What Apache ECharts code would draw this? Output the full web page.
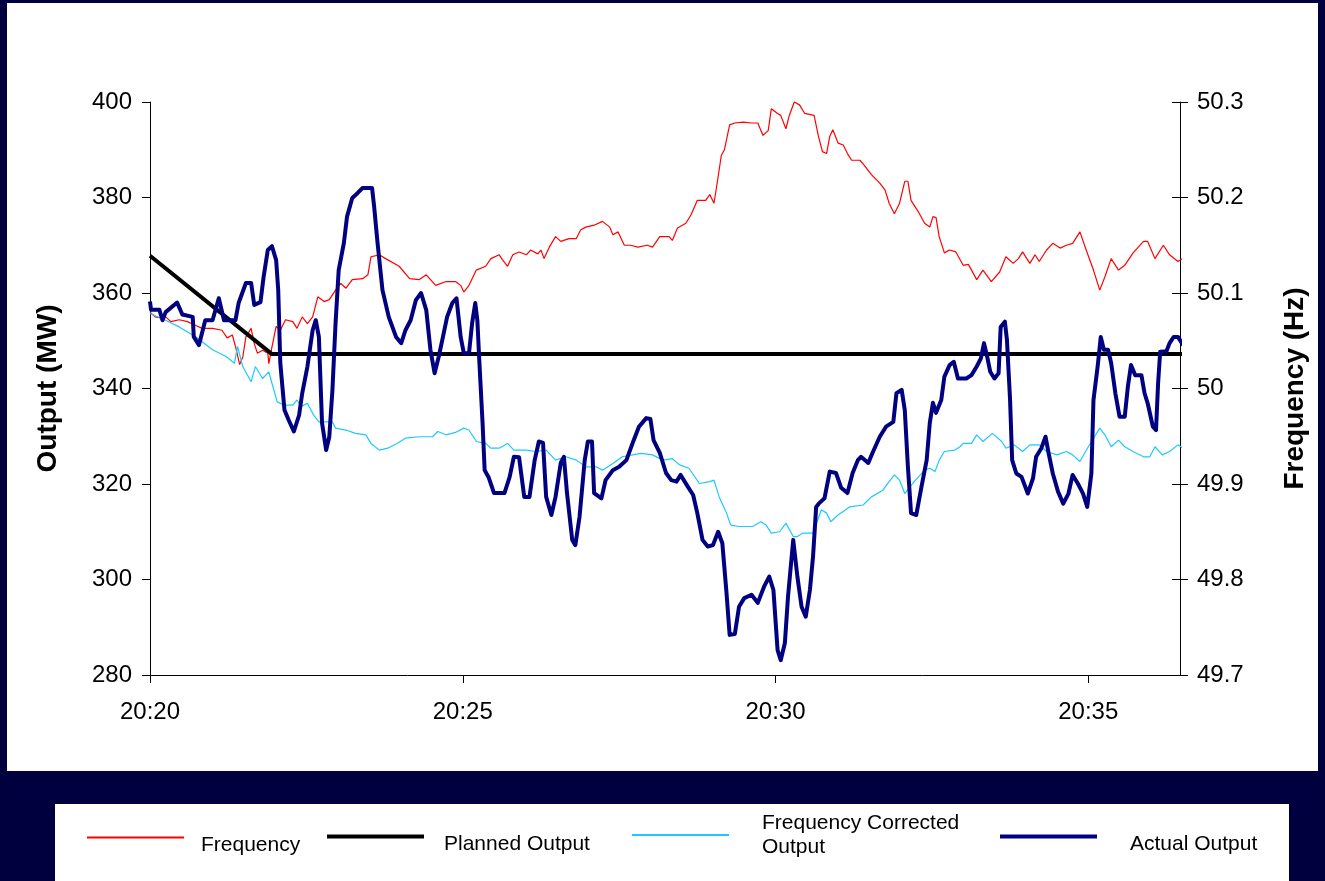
<!DOCTYPE html>
<html>
<head>
<meta charset="utf-8">
<script src="https://cdn.jsdelivr.net/npm/echarts@6/dist/echarts.min.js"></script>
<style>
  html, body { margin: 0; padding: 0; background: #00003f; }
  #chart { width: 1325px; height: 881px; }
</style>
</head>
<body>
<div id="chart"></div>
<script>
// Time in seconds after 20:20:00
const xTickLabels = ['20:20', '20:25', '20:30', '20:35'];
const seriesNames = ['Frequency', 'Planned Output', 'Frequency Corrected Output', 'Actual Output'];

// Frequency (Hz), right axis
const frequency = [
  [0,50.080],[5,50.075],[10,50.074],[15,50.075],[20,50.070],[28,50.072],[36,50.070],[44,50.066],[50,50.063],[60,50.063],
  [69,50.061],[74,50.053],[79,50.056],[82,50.044],[86,50.025],[89,50.033],[92,50.054],[97,50.063],[100,50.047],[103,50.037],
  [108,50.040],[113,50.037],[114,50.026],[116,50.038],[121,50.065],[125,50.061],[130,50.072],[137,50.070],[141,50.063],[146,50.075],
  [151,50.068],[156,50.075],[161,50.096],[167,50.091],[172,50.093],[178,50.103],[183,50.110],[188,50.105],[194,50.114],[204,50.115],
  [209,50.119],[212,50.138],[220,50.140],[226,50.136],[239,50.128],[249,50.115],[258,50.114],[265,50.119],[274,50.108],[284,50.112],
  [293,50.112],[298,50.108],[301,50.101],[306,50.108],[313,50.124],[322,50.128],[327,50.136],[335,50.140],[338,50.135],[343,50.128],
  [348,50.140],[354,50.143],[361,50.140],[365,50.145],[372,50.141],[375,50.145],[378,50.136],[383,50.148],[389,50.159],[394,50.154],
  [402,50.157],[409,50.157],[413,50.166],[418,50.169],[426,50.171],[434,50.175],[441,50.169],[444,50.161],[449,50.164],[455,50.150],
  [461,50.150],[468,50.148],[477,50.150],[482,50.148],[489,50.159],[498,50.159],[501,50.155],[506,50.168],[514,50.173],[519,50.182],
  [525,50.197],[533,50.197],[537,50.203],[541,50.194],[545,50.222],[548,50.244],[551,50.250],[556,50.276],[561,50.278],[569,50.279],
  [577,50.278],[583,50.278],[588,50.265],[593,50.270],[596,50.293],[602,50.288],[605,50.286],[610,50.272],[613,50.285],[618,50.300],
  [623,50.297],[628,50.288],[637,50.286],[641,50.265],[645,50.248],[649,50.246],[652,50.264],[655,50.271],[660,50.257],[665,50.255],
  [669,50.246],[673,50.239],[681,50.239],[685,50.234],[692,50.224],[700,50.215],[705,50.208],[709,50.194],[714,50.183],[719,50.194],
  [724,50.217],[727,50.217],[730,50.197],[737,50.185],[743,50.173],[748,50.169],[751,50.180],[754,50.179],[757,50.159],[762,50.142],
  [767,50.145],[773,50.143],[780,50.129],[785,50.130],[793,50.114],[799,50.124],[807,50.112],[815,50.122],[821,50.138],[828,50.131],
  [833,50.136],[837,50.143],[844,50.131],[849,50.140],[853,50.133],[860,50.145],[866,50.152],[873,50.147],[879,50.150],[885,50.152],
  [892,50.164],[898,50.145],[905,50.124],[911,50.103],[916,50.117],[922,50.136],[929,50.124],[935,50.129],[943,50.142],[953,50.154],
  [957,50.154],[964,50.136],[972,50.150],[978,50.140],[986,50.133],[996,50.140]
];

// Planned Output (MW)
const plannedOutput = [[0,367.8],[117,347.2],[991,347.2]];

// Frequency Corrected Output (MW)
const correctedOutput = [
  [0,355.7],[15,354.3],[28,352.9],[44,350.8],[60,348.1],[73,346.7],[81,345.3],[84,348.8],[89,344.6],[97,341.4],
  [101,344.6],[108,342.1],[114,343.5],[117,341.1],[122,337.2],[129,336.5],[137,336.5],[141,337.6],[145,336.2],[151,336.9],
  [157,334.4],[162,333.0],[175,333.0],[178,331.7],[188,331.3],[197,330.6],[207,330.3],[212,328.5],[220,327.1],[228,327.5],
  [237,328.5],[245,329.6],[258,329.9],[271,329.9],[276,331.0],[284,330.3],[293,330.8],[301,331.7],[306,331.3],[313,328.9],
  [322,328.5],[327,327.5],[335,327.5],[343,328.5],[349,327.1],[361,327.1],[370,326.8],[380,327.1],[389,325.0],[399,325.7],
  [409,325.0],[418,323.6],[428,323.6],[434,322.9],[444,324.3],[453,325.7],[463,326.1],[471,326.4],[482,326.1],[492,325.0],
  [501,325.3],[508,324.0],[517,323.3],[527,320.1],[537,320.5],[541,320.8],[546,317.3],[553,313.9],[557,311.4],[565,311.1],
  [578,311.1],[586,312.1],[591,311.4],[596,309.7],[604,310.0],[610,311.8],[617,309.0],[621,309.0],[626,309.7],[636,309.7],
  [644,314.6],[649,313.9],[653,312.1],[660,313.5],[671,315.2],[684,315.6],[692,317.3],[703,318.7],[709,320.5],[714,321.9],
  [719,320.8],[724,318.0],[729,319.4],[733,320.5],[743,322.9],[748,323.3],[753,322.6],[757,325.0],[762,326.8],[772,327.1],
  [777,327.8],[780,328.5],[788,328.5],[793,330.3],[799,328.9],[808,330.6],[817,328.9],[821,327.5],[829,328.2],[837,326.8],
  [844,328.2],[853,328.2],[860,326.8],[870,326.1],[879,326.8],[885,326.1],[892,324.7],[900,327.8],[906,329.9],[911,331.7],
  [916,330.3],[922,327.8],[929,329.2],[935,327.8],[943,326.8],[953,325.7],[959,325.7],[964,327.8],[971,326.1],[978,326.8],
  [986,328.2],[991,327.5]
];

// Actual Output (MW)
const actualOutput = [
  [0,358.2],[1,356.5],[9,356.5],[12,354.3],[15,356.0],[26,358.0],[31,355.5],[41,355.0],[42,350.8],[47,349.1],
  [53,354.3],[60,354.3],[66,358.9],[71,354.3],[82,354.3],[85,357.9],[92,362.1],[97,362.1],[100,357.5],[106,358.1],
  [109,363.4],[113,369.0],[117,369.8],[121,366.9],[123,360.6],[125,345.3],[129,335.5],[133,333.4],[138,331.0],[143,334.4],
  [146,339.0],[151,344.6],[156,352.2],[159,354.3],[162,350.8],[165,332.8],[169,327.1],[172,329.9],[175,339.7],[178,353.7],
  [181,364.8],[186,370.5],[189,376.0],[194,379.9],[199,380.9],[204,382.0],[213,382.0],[215,378.1],[218,371.1],[223,360.6],
  [229,355.0],[236,350.8],[241,349.5],[245,352.2],[250,354.3],[255,358.5],[260,360.0],[265,356.4],[269,348.1],[273,343.2],
  [277,346.7],[281,350.8],[285,355.0],[290,357.9],[294,358.9],[298,350.8],[301,347.4],[306,347.4],[309,353.7],[312,357.9],
  [314,354.3],[316,345.3],[319,332.8],[321,322.9],[325,321.3],[330,318.1],[340,318.1],[345,321.5],[349,325.7],[354,325.6],
  [359,317.3],[364,317.3],[369,325.0],[373,328.9],[377,328.6],[380,317.3],[385,313.5],[389,317.3],[394,324.4],[397,325.7],
  [400,318.1],[405,308.3],[408,307.2],[412,313.1],[417,325.0],[420,328.9],[424,328.9],[426,318.1],[433,317.0],[437,320.8],
  [444,322.9],[450,323.6],[457,325.0],[463,328.6],[469,332.0],[476,333.8],[480,333.6],[483,329.2],[489,326.5],[495,322.3],
  [500,320.8],[505,320.5],[509,321.9],[516,319.4],[521,317.7],[525,313.9],[530,308.3],[535,306.9],[540,307.2],[545,310.0],
  [549,307.6],[553,297.2],[556,288.4],[561,288.6],[565,294.3],[570,296.1],[577,296.8],[583,295.1],[589,298.5],[594,300.6],
  [598,297.8],[602,285.2],[605,283.1],[609,286.7],[612,296.4],[617,308.3],[621,300.6],[625,294.3],[629,292.2],[633,297.8],
  [636,304.8],[639,315.2],[642,316.0],[647,317.0],[652,322.6],[658,322.3],[663,319.2],[669,318.1],[674,322.3],[679,325.0],
  [682,325.7],[689,324.4],[693,326.5],[700,329.9],[706,332.0],[713,333.0],[716,339.0],[721,339.7],[724,335.5],[727,323.6],
  [730,313.9],[735,313.5],[740,319.4],[745,325.0],[748,332.8],[751,337.0],[754,334.9],[759,337.6],[762,342.5],[767,344.9],
  [771,345.6],[775,342.1],[783,342.1],[788,342.8],[793,344.6],[797,346.3],[800,349.5],[803,346.7],[806,343.5],[810,342.1],
  [814,343.2],[816,352.9],[820,354.0],[822,350.2],[825,337.6],[827,325.0],[831,322.2],[836,321.5],[842,318.0],[847,321.2],
  [850,325.7],[855,327.5],[859,329.9],[862,326.4],[866,322.2],[871,318.4],[876,315.9],[881,318.0],[885,321.9],[890,320.1],
  [895,318.0],[899,315.2],[903,322.2],[905,337.6],[909,344.6],[912,350.8],[915,348.1],[919,348.1],[922,345.3],[926,339.0],
  [930,334.1],[935,334.1],[938,340.4],[941,344.9],[945,342.8],[951,342.8],[954,339.0],[957,336.9],[962,332.0],[965,331.3],
  [967,341.1],[969,347.7],[975,347.8],[978,349.5],[982,350.8],[986,350.8],[991,349.1]
];

const FONT = '"Liberation Sans", Arial, sans-serif';
const chart = echarts.init(document.getElementById('chart'), null, { renderer: 'canvas' });

// single-line labels sit a little below their legend line: an empty first line pushes them down
function legendBox(name, left, top, h, padLeft, lineH, fmt) {
  return {
    data: [{ name: name, icon: 'rect' }],
    left: left, top: top, padding: 0,
    itemWidth: 97, itemHeight: h,
    selectedMode: false,
    formatter: fmt || function (n) { return '\n' + n; },
    textStyle: { fontFamily: FONT, fontSize: 21, color: '#000', lineHeight: lineH, padding: [0, 0, 0, padLeft] }
  };
}

const option = {
  animation: false,
  backgroundColor: '#00003f',
  graphic: [
    { type: 'rect', z: -100, shape: { x: 7, y: 3, width: 1311, height: 768 }, style: { fill: '#ffffff' } },
    { type: 'rect', z: -100, shape: { x: 55, y: 804, width: 1234, height: 77 }, style: { fill: '#ffffff' } }
  ],
  grid: { left: 150, top: 102, width: 1030, height: 573, containLabel: false },
  legend: [
    legendBox(seriesNames[0], 87, 819, 2, 12, 16),
    legendBox(seriesNames[1], 327, 818, 4, 15, 16),
    legendBox(seriesNames[2], 632, 811, 2, 28, 24, function () { return 'Frequency Corrected\nOutput'; }),
    legendBox(seriesNames[3], 1000, 818, 4, 28, 16)
  ],
  xAxis: {
    type: 'value', min: 0, max: 988, interval: 300,
    axisLine: { show: true, lineStyle: { color: '#000', width: 1 } },
    axisTick: { show: true, length: 8, lineStyle: { color: '#000' } },
    splitLine: { show: false },
    axisLabel: {
      margin: 25, color: '#000', fontFamily: FONT, fontSize: 24, showMaxLabel: false,
      formatter: function (v) { const i = Math.round(v / 300); return (Math.abs(v - i * 300) < 1e-6 && i < xTickLabels.length) ? xTickLabels[i] : ''; }
    }
  },
  yAxis: [
    {
      type: 'value', min: 280, max: 400, interval: 20, position: 'left',
      name: 'Output (MW)', nameLocation: 'middle', nameGap: 88, nameRotate: 90,
      nameTextStyle: { fontFamily: FONT, fontSize: 28, fontWeight: 'bold', color: '#000' },
      axisLine: { show: true, lineStyle: { color: '#000', width: 1 } },
      axisTick: { show: true, length: 8, lineStyle: { color: '#000' } },
      splitLine: { show: false },
      axisLabel: { margin: 18, color: '#000', fontFamily: FONT, fontSize: 24 }
    },
    {
      type: 'value', min: 49.7, max: 50.3, interval: 0.1, position: 'right',
      name: 'Frequency (Hz)', nameLocation: 'middle', nameGap: 101, nameRotate: 90,
      nameTextStyle: { fontFamily: FONT, fontSize: 28, fontWeight: 'bold', color: '#000' },
      axisLine: { show: true, lineStyle: { color: '#000', width: 1 } },
      axisTick: { show: true, length: 8, lineStyle: { color: '#000' } },
      splitLine: { show: false },
      axisLabel: { margin: 17, color: '#000', fontFamily: FONT, fontSize: 24,
        formatter: function (v) { return String(Math.round(v * 10) / 10); } }
    },
    {
      type: 'value', min: 49.7, max: 50.3, interval: 0.1, position: 'right',
      axisLine: { show: false },
      axisTick: { show: true, inside: true, length: 8, lineStyle: { color: '#000' } },
      splitLine: { show: false },
      axisLabel: { show: false }
    }
  ],
  series: [
    { name: seriesNames[0], type: 'line', yAxisIndex: 1, data: frequency, showSymbol: false, clip: false,
      color: '#ff0000', lineStyle: { color: '#ff0000', width: 1.2 }, z: 2 },
    { name: seriesNames[1], type: 'line', yAxisIndex: 0, data: plannedOutput, showSymbol: false, clip: false,
      color: '#000000', lineStyle: { color: '#000000', width: 4 }, z: 3 },
    { name: seriesNames[2], type: 'line', yAxisIndex: 0, data: correctedOutput, showSymbol: false, clip: false,
      color: '#1ec8ff', lineStyle: { color: '#1ec8ff', width: 1.2 }, z: 4 },
    { name: seriesNames[3], type: 'line', yAxisIndex: 0, data: actualOutput, showSymbol: false, clip: false,
      color: '#000080', lineStyle: { color: '#000080', width: 4, join: 'round' }, z: 5 }
  ]
};
chart.setOption(option);
</script>
</body>
</html>
